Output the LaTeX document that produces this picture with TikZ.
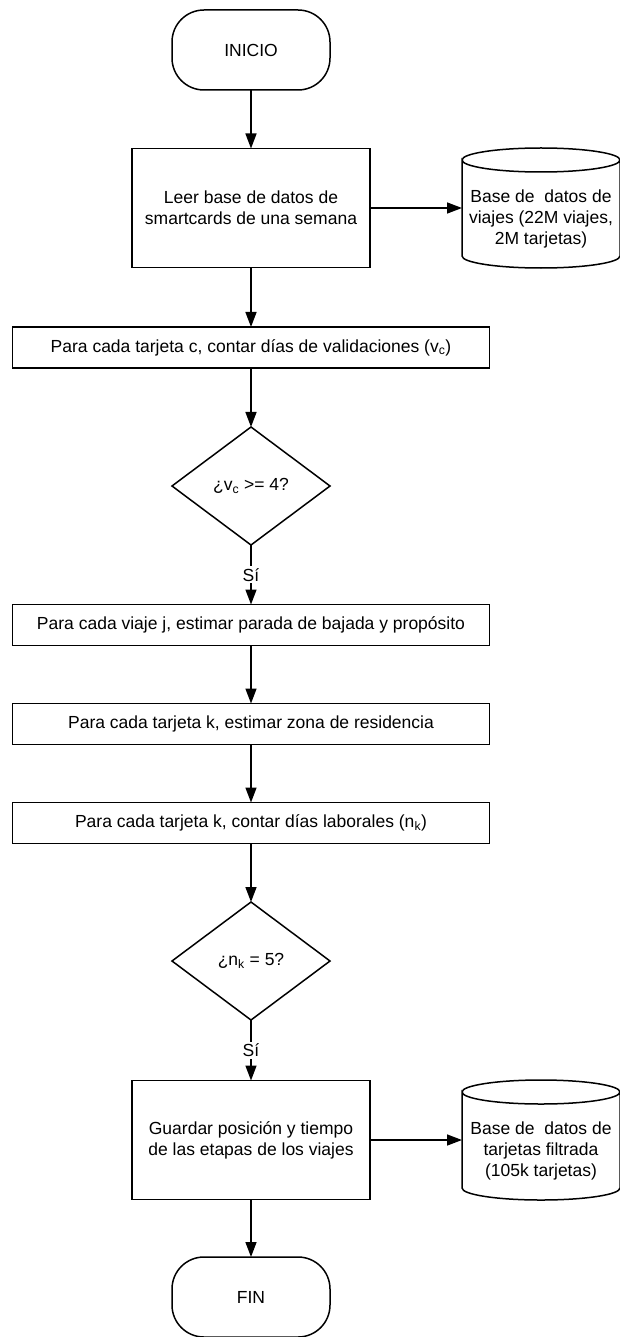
\documentclass[tikz,border=0pt]{standalone}
\usepackage{fontspec}
\setmainfont{Liberation Sans}
\usepackage{tikz}
\usetikzlibrary{positioning, arrows.meta, shapes, calc}

% database drawn round an empty node
\newcommand{\dbcylinder}[1]{%
  \draw ($(#1.north west)+(0,-12)$)
    arc[start angle=180, end angle=-180, x radius=79, y radius=12]
    -- ($(#1.south west)+(0,12)$)
    arc[start angle=180, end angle=360, x radius=79, y radius=12]
    -- ($(#1.north east)+(0,-12)$);}

\begin{document}
\begin{tikzpicture}[x=1bp, y=1bp, line width=1.5bp,
    every node/.style={font=\fontsize{17.5bp}{21bp}\selectfont, outer sep=0pt},
    terminal/.style={draw, rectangle, rounded corners=32bp, minimum width=158bp, minimum height=80bp},
    process/.style={draw, rectangle, minimum width=238bp, minimum height=119bp, align=center},
    wide/.style={draw, rectangle, minimum width=477bp, minimum height=41bp},
    decision/.style={draw, diamond, minimum width=158bp, minimum height=118bp, inner sep=0pt},
    dbase/.style={rectangle, minimum width=158bp, minimum height=120bp},
    flow/.style={-{Triangle[length=15bp, width=11bp]}}]

    \useasboundingbox (0,0) rectangle (620,-1337);

    % Start and reading
    \node[terminal] (inicio) at (251,-50) {INICIO};
    \node[process] (leer) at (251,-208) {Leer base de datos de\\smartcards de una semana};
    \node[dbase] (viajes) at (541,-208) {};
    \dbcylinder{viajes}
    \node[align=center] (viajestxt) at (541,-219) {Base de \ datos de\\viajes (22M viajes,\\2M tarjetas)};

    % Steps
    \node[wide] (contar) at (251,-347.5) {Para cada tarjeta c, contar días de validaciones (v\textsubscript{c})};
    \node[decision] (valid) at (251,-486) {¿v\textsubscript{c} >= 4?};
    \node[wide] (viaje) at (251,-625) {Para cada viaje j, estimar parada de bajada y propósito};
    \node[wide] (zona) at (251,-724) {Para cada tarjeta k, estimar zona de residencia};
    \node[wide] (laboral) at (251,-823) {Para cada tarjeta k, contar días laborales (n\textsubscript{k})};
    \node[decision] (cinco) at (251,-961) {¿n\textsubscript{k} = 5?};

    % Saving and end
    \node[process] (guardar) at (251,-1140) {Guardar posición y tiempo\\de las etapas de los viajes};
    \node[dbase] (filtrada) at (541,-1140) {};
    \dbcylinder{filtrada}
    \node[align=center] (filtradatxt) at (541,-1151) {Base de \ datos de\\tarjetas filtrada\\(105k tarjetas)};
    \node[terminal] (fin) at (251,-1297) {FIN};

    % Connectors
    \draw[flow] (inicio) -- (leer);
    \draw[flow] (leer) -- (viajes);
    \draw[flow] (leer) -- (contar);
    \draw[flow] (contar) -- (valid);
    \draw[flow] (valid) -- node[fill=white, inner sep=2bp] (si1) {Sí} (viaje);
    \draw[flow] (viaje) -- (zona);
    \draw[flow] (zona) -- (laboral);
    \draw[flow] (laboral) -- (cinco);
    \draw[flow] (cinco) -- node[fill=white, inner sep=2bp] (si2) {Sí} (guardar);
    \draw[flow] (guardar) -- (filtrada);
    \draw[flow] (guardar) -- (fin);

\end{tikzpicture}
\end{document}
